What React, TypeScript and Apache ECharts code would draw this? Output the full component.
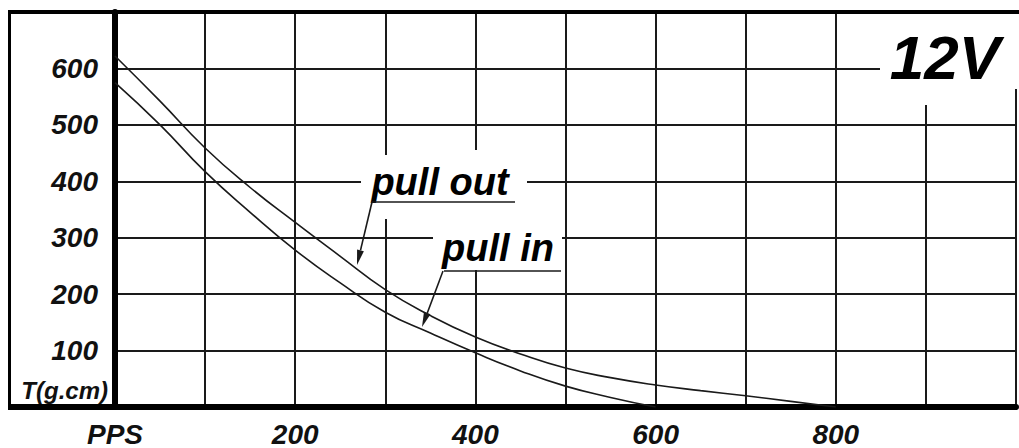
import React, { useEffect, useRef } from "react";
import * as echarts from "echarts";

const xTicks = [0, 200, 400, 600, 800];
const yTicks = [100, 200, 300, 400, 500, 600];
const pullOutPPS = [0, 50, 100, 150, 200, 250, 300, 350, 400, 450, 500, 550, 600, 650, 700, 750, 800];
const pullOutT = [622, 542, 459, 389, 327, 267, 208, 162, 124, 94, 69, 52, 39, 29, 20, 10, 0];
const pullInPPS = [0, 50, 100, 150, 200, 250, 300, 350, 400, 450, 500, 550, 600];
const pullInT = [575, 500, 417, 345, 278, 220, 168, 131, 96, 64, 37, 17, 0];

const FONT = "'Liberation Sans', Arial, sans-serif";
const INK = "#1a1a1a";

function arrow(x1: number, y1: number, x2: number, y2: number, len = 15, half = 3.5) {
  const dx = x2 - x1;
  const dy = y2 - y1;
  const L = Math.sqrt(dx * dx + dy * dy);
  const ux = dx / L;
  const uy = dy / L;
  const bx = x2 - ux * len;
  const by = y2 - uy * len;
  const px = -uy * half;
  const py = ux * half;
  return [
    { type: "line", z: 110, shape: { x1, y1, x2: bx, y2: by }, style: { stroke: INK, lineWidth: 1.6 } },
    {
      type: "polygon",
      z: 110,
      shape: { points: [[x2, y2], [bx + px, by + py], [bx - px, by - py]] },
      style: { fill: INK },
    },
  ];
}

export default function App() {
  const ref = useRef<HTMLDivElement>(null);
  useEffect(() => {
    document.body.style.margin = "0";
    if (!ref.current) return;
    const chart = echarts.init(ref.current, null, { renderer: "svg" });
    const mask = (x: number, y: number, w: number, h: number) => ({
      type: "rect",
      z: 100,
      shape: { x, y, width: w, height: h },
      style: { fill: "#fff" },
    });
    const label = (text: string, x: number, y: number, size: number) => ({
      type: "text",
      z: 110,
      x,
      y,
      style: {
        text,
        align: "center",
        verticalAlign: "middle",
        font: `italic bold ${size}px ${FONT}`,
        fill: "#000",
      },
    });
    chart.setOption({
      animation: false,
      backgroundColor: "#fff",
      grid: { left: 115, top: 12, width: 908, height: 395 },
      xAxis: {
        type: "value",
        min: 0,
        max: 1000,
        interval: 100,
        axisLine: { show: true, lineStyle: { color: "#000", width: 6 } },
        axisTick: { show: false },
        splitLine: { show: true, lineStyle: { color: INK, width: 2 } },
        axisLabel: {
          margin: 13,
          fontFamily: FONT,
          fontSize: 28,
          fontWeight: "bold",
          fontStyle: "italic",
          color: "#111",
          formatter: (v: number) => (v === 0 ? "PPS" : xTicks.includes(v) ? String(v) : ""),
        },
      },
      yAxis: {
        type: "value",
        min: 0,
        max: 700,
        interval: 100,
        axisLine: { show: true, lineStyle: { color: "#000", width: 6 } },
        axisTick: { show: false },
        splitLine: { show: true, lineStyle: { color: INK, width: 2 } },
        axisLabel: {
          margin: 17,
          fontFamily: FONT,
          fontSize: 28,
          fontWeight: "bold",
          fontStyle: "italic",
          color: "#111",
          formatter: (v: number) => (yTicks.includes(v) ? String(v) : ""),
        },
      },
      series: [
        {
          name: "pull out",
          type: "line",
          data: pullOutPPS.map((x, i) => [x, pullOutT[i]]),
          smooth: 0.5,
          symbol: "none",
          lineStyle: { color: INK, width: 1.6 },
          z: 5,
        },
        {
          name: "pull in",
          type: "line",
          data: pullInPPS.map((x, i) => [x, pullInT[i]]),
          smooth: 0.5,
          symbol: "none",
          lineStyle: { color: INK, width: 1.6 },
          z: 5,
        },
      ],
      graphic: [
        // masks over grid lines where labels sit
        mask(361, 155, 166, 48),
        mask(384, 155, 10, 64),
        mask(474, 150, 10, 117),
        mask(433, 226, 129, 44),
        mask(880, 14, 139, 75),
        mask(925, 14, 14, 91),
        // frame
        { type: "line", z: 105, shape: { x1: 8, y1: 12, x2: 1019, y2: 12 }, style: { stroke: "#000", lineWidth: 4 } },
        { type: "line", z: 105, shape: { x1: 9.5, y1: 10, x2: 9.5, y2: 410 }, style: { stroke: "#000", lineWidth: 3 } },
        { type: "line", z: 105, shape: { x1: 8, y1: 407, x2: 116, y2: 407 }, style: { stroke: "#000", lineWidth: 6 } },
        // labels
        {
          type: "text",
          z: 110,
          x: 108,
          y: 390,
          style: {
            text: "T(g.cm)",
            align: "right",
            verticalAlign: "middle",
            font: `italic bold 24px ${FONT}`,
            fill: "#111",
          },
        },
        label("12V", 945, 57, 62),
        label("pull out", 440, 182, 38),
        label("pull in", 498, 248, 38),
        { type: "line", z: 110, shape: { x1: 372, y1: 202, x2: 515, y2: 202 }, style: { stroke: INK, lineWidth: 1.6 } },
        { type: "line", z: 110, shape: { x1: 444, y1: 271, x2: 561, y2: 271 }, style: { stroke: INK, lineWidth: 1.6 } },
        ...arrow(372, 202, 357, 265),
        ...arrow(443, 271, 422, 327),
      ],
    });
    return () => chart.dispose();
  }, []);
  return <div ref={ref} style={{ width: 1019, height: 448 }} />;
}
